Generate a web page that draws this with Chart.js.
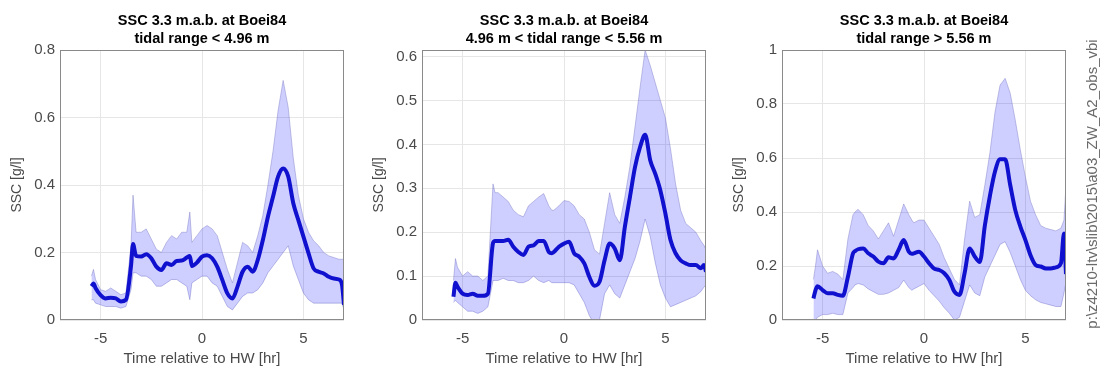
<!DOCTYPE html>
<html>
<head>
<meta charset="utf-8">
<script src="https://cdn.jsdelivr.net/npm/chart.js@4.4.1/dist/chart.umd.min.js"></script>
<style>
  html, body { margin: 0; padding: 0; background: #fff; }
  body { width: 1103px; height: 370px; position: relative; overflow: hidden; }
  .panel { position: absolute; top: 0; height: 370px; }
</style>
</head>
<body>
<div class="panel" style="left:0;width:355px"><canvas id="c1"></canvas></div>
<div class="panel" style="left:362px;width:355px"><canvas id="c2"></canvas></div>
<div class="panel" style="left:722px;width:381px"><canvas id="c3"></canvas></div>
<script>
"use strict";

// time relative to high water [hr]
const hours = [
  -5.45, -5.35, -5.25, -5, -4.75,
  -4.5, -4.25, -4, -3.75, -3.5,
  -3.4, -3.25, -3, -2.75, -2.5,
  -2.25, -2, -1.75, -1.5, -1.25,
  -1, -0.75, -0.6, -0.5, -0.25,
  0, 0.25, 0.5, 0.75, 1,
  1.25, 1.5, 1.75, 2, 2.25,
  2.5, 2.75, 3, 3.25, 3.5,
  3.75, 4, 4.25, 4.5, 4.75,
  5, 5.25, 5.5, 5.75, 6,
  6.25, 6.5, 6.75, 6.9, 7
];

// tidal range < 4.96 m
const mean1 = [
  0.100, 0.108, 0.095, 0.074, 0.064,
  0.066, 0.064, 0.055, 0.060, 0.160,
  0.225, 0.190, 0.188, 0.195, 0.183,
  0.158, 0.148, 0.168, 0.163, 0.175,
  0.176, 0.185, 0.190, 0.160, 0.170,
  0.188, 0.192, 0.183, 0.158, 0.119,
  0.079, 0.064, 0.099, 0.143, 0.158,
  0.143, 0.178, 0.237, 0.306, 0.365,
  0.425, 0.449, 0.425, 0.346, 0.296,
  0.247, 0.198, 0.153, 0.143, 0.138,
  0.128, 0.123, 0.120, 0.105, 0.045
];
const upper1 = [
  0.13, 0.15, 0.12, 0.09, 0.085,
  0.095, 0.085, 0.075, 0.08, 0.22,
  0.37, 0.26, 0.26, 0.27, 0.24,
  0.21, 0.20, 0.23, 0.25, 0.24,
  0.26, 0.26, 0.32, 0.23, 0.25,
  0.27, 0.28, 0.27, 0.25, 0.20,
  0.15, 0.11, 0.17, 0.23, 0.22,
  0.20, 0.25, 0.31, 0.40, 0.50,
  0.62, 0.71, 0.63, 0.48, 0.37,
  0.30, 0.26, 0.235, 0.22, 0.20,
  0.19, 0.185, 0.18, 0.18, 0.18
];
const lower1 = [
  0.06, 0.06, 0.05, 0.045, 0.04,
  0.04, 0.04, 0.035, 0.04, 0.09,
  0.14, 0.14, 0.13, 0.13, 0.12,
  0.10, 0.10, 0.11, 0.12, 0.12,
  0.11, 0.10, 0.06, 0.11, 0.12,
  0.13, 0.13, 0.11, 0.10, 0.07,
  0.04, 0.03, 0.05, 0.07, 0.08,
  0.08, 0.09, 0.11, 0.14, 0.16,
  0.18, 0.20, 0.22, 0.16, 0.12,
  0.08, 0.06, 0.05, 0.05, 0.05,
  0.05, 0.05, 0.05, 0.05, 0.03
];

// 4.96 m < tidal range < 5.56 m
const mean2 = [
  0.053, 0.085, 0.076, 0.060, 0.057,
  0.060, 0.055, 0.055, 0.060, 0.175,
  0.180, 0.180, 0.180, 0.183, 0.167,
  0.155, 0.148, 0.167, 0.170, 0.180,
  0.180, 0.155, 0.152, 0.155, 0.167,
  0.174, 0.178, 0.152, 0.144, 0.129,
  0.098, 0.078, 0.087, 0.136, 0.174,
  0.163, 0.136, 0.212, 0.280, 0.348,
  0.394, 0.422, 0.364, 0.333, 0.295,
  0.242, 0.182, 0.152, 0.136, 0.129,
  0.125, 0.125, 0.118, 0.125, 0.110
];
const upper2 = [
  0.09, 0.14, 0.12, 0.10, 0.11,
  0.10, 0.10, 0.09, 0.10, 0.31,
  0.29, 0.29, 0.28, 0.27, 0.25,
  0.24, 0.235, 0.26, 0.27, 0.28,
  0.288, 0.26, 0.25, 0.25, 0.26,
  0.272, 0.27, 0.26, 0.24, 0.23,
  0.20, 0.16, 0.15, 0.22, 0.29,
  0.24, 0.22, 0.28, 0.35, 0.44,
  0.53, 0.615, 0.58, 0.54, 0.50,
  0.46, 0.39, 0.31, 0.25, 0.22,
  0.21, 0.20, 0.18, 0.17, 0.16
];
const lower2 = [
  0.04, 0.045, 0.04, 0.03, 0.02,
  0.02, 0.015, 0.02, 0.03, 0.09,
  0.09, 0.09, 0.095, 0.09, 0.09,
  0.085, 0.085, 0.09, 0.10, 0.09,
  0.085, 0.09, 0.085, 0.085, 0.085,
  0.085, 0.085, 0.08, 0.06, 0.04,
  0.01, -0.01, 0.0, 0.06, 0.08,
  0.06, 0.05, 0.08, 0.11, 0.14,
  0.18, 0.23, 0.19, 0.13, 0.08,
  0.05, 0.03, 0.035, 0.04, 0.045,
  0.05, 0.055, 0.065, 0.075, 0.08
];

// tidal range > 5.56 m
const mean3 = [
  0.080, 0.110, 0.125, 0.111, 0.099,
  0.099, 0.093, 0.090, 0.160, 0.247,
  0.255, 0.262, 0.265, 0.247, 0.235,
  0.216, 0.210, 0.232, 0.228, 0.260,
  0.296, 0.253, 0.245, 0.247, 0.253,
  0.235, 0.210, 0.190, 0.185, 0.173,
  0.148, 0.105, 0.093, 0.173, 0.265,
  0.235, 0.215, 0.350, 0.460, 0.550,
  0.595, 0.595, 0.500, 0.407, 0.346,
  0.296, 0.240, 0.204, 0.198, 0.191,
  0.191, 0.195, 0.210, 0.320, 0.170
];
const upper3 = [
  0.15, 0.20, 0.26, 0.20, 0.173,
  0.18, 0.17, 0.15, 0.30, 0.39,
  0.40, 0.41, 0.39, 0.35, 0.33,
  0.30, 0.33, 0.36, 0.31, 0.37,
  0.43, 0.39, 0.37, 0.36, 0.37,
  0.37, 0.34, 0.31, 0.28, 0.23,
  0.19, 0.15, 0.13, 0.30, 0.44,
  0.38, 0.39, 0.50, 0.62, 0.77,
  0.87, 0.895, 0.84, 0.74, 0.63,
  0.53, 0.44, 0.39, 0.35, 0.34,
  0.335, 0.33, 0.34, 0.37, 0.50
];
const lower3 = [
  0.0, 0.0, 0.01, 0.02, 0.02,
  0.025, 0.02, 0.02, 0.10, 0.12,
  0.13, 0.135, 0.13, 0.115, 0.105,
  0.095, 0.095, 0.10, 0.11, 0.12,
  0.148, 0.12, 0.11, 0.115, 0.125,
  0.135, 0.11, 0.09, 0.07, 0.045,
  0.025, 0.0, 0.01, 0.07, 0.13,
  0.10, 0.09, 0.16, 0.20, 0.24,
  0.28, 0.29, 0.25, 0.20, 0.15,
  0.11, 0.09, 0.075, 0.065, 0.06,
  0.055, 0.05, 0.05, 0.10, 0.14
];

const titleTop = "SSC 3.3 m.a.b. at Boei84";
const subtitles = [
  "tidal range < 4.96 m",
  "4.96 m < tidal range < 5.56 m",
  "tidal range > 5.56 m"
];
const xTicks = [-5, 0, 5];
const yTicks1 = [0, 0.2, 0.4, 0.6, 0.8];
const yTicks2 = [0, 0.1, 0.2, 0.3, 0.4, 0.5, 0.6];
const yTicks3 = [0, 0.2, 0.4, 0.6, 0.8, 1];
const yMax = [0.8, 0.615, 1];
const filePath = "p:\\z4210-ltv\\slib\\2015\\a03_ZW_A2_obs_vbi";

const FONT = "'Liberation Sans', Arial, Helvetica, sans-serif";
const pairs = (ys) => hours.map((h, i) => ({ x: h, y: ys[i] }));

// box around the axes, two-line title, optional file path on the right
const panelDecor = {
  id: "panelDecor",
  afterDatasetsDraw(chart) {
    const { ctx, chartArea: a } = chart;
    ctx.save();
    ctx.strokeStyle = "#8a8a8a";
    ctx.lineWidth = 1;
    ctx.strokeRect(a.left + 0.5, a.top + 0.5, a.right - a.left - 1, a.bottom - a.top - 1);
    ctx.restore();
  },
  afterDraw(chart, args, opts) {
    const { ctx, chartArea: a } = chart;
    const cx = (a.left + a.right) / 2;
    ctx.save();
    ctx.fillStyle = "#000";
    ctx.textAlign = "center";
    ctx.textBaseline = "middle";
    ctx.font = "bold 14.5px " + FONT;
    ctx.fillText(titleTop, cx, 21);
    ctx.fillText(opts.sub, cx, 39);
    if (opts.path) {
      ctx.translate(a.right + 27, 184);
      ctx.rotate(-Math.PI / 2);
      ctx.font = "15px " + FONT;
      ctx.fillStyle = "#6a6a6a";
      ctx.fillText(filePath, 0, 0);
    }
    ctx.restore();
  }
};

function makePanel(id, mean, upper, lower, yTicks, max, sub, path) {
  const ctx = document.getElementById(id).getContext("2d");
  return new Chart(ctx, {
    type: "line",
    data: {
      datasets: [
        {
          data: pairs(mean),
          borderColor: "#1010cf",
          borderWidth: 4,
          pointRadius: 0,
          cubicInterpolationMode: "monotone",
          fill: false
        },
        {
          data: pairs(upper),
          borderColor: "rgba(110, 110, 190, 0.4)",
          borderWidth: 1,
          pointRadius: 0,
          backgroundColor: "rgba(0, 0, 255, 0.19)",
          fill: "+1"
        },
        {
          data: pairs(lower),
          borderColor: "rgba(110, 110, 190, 0.4)",
          borderWidth: 1,
          pointRadius: 0,
          fill: false
        }
      ]
    },
    options: {
      responsive: true,
      maintainAspectRatio: false,
      animation: false,
      layout: { padding: { top: 50, right: id === "c3" ? 37 : 11, left: 0, bottom: 0 } },
      plugins: {
        legend: { display: false },
        tooltip: { enabled: false },
        panelDecor: { sub: sub, path: path }
      },
      scales: {
        x: {
          type: "linear",
          min: -7,
          max: 7,
          afterBuildTicks: (s) => { s.ticks = xTicks.map((v) => ({ value: v })); },
          afterFit: (s) => { s.height = 50; },
          grid: { color: "#e6e6e6", drawTicks: false },
          border: { display: false },
          ticks: { color: "#4a4a4a", padding: 10, font: { family: FONT, size: 15 } },
          title: {
            display: true,
            text: "Time relative to HW [hr]",
            color: "#4a4a4a",
            padding: { top: 0, bottom: 2 },
            font: { family: FONT, size: 15 }
          }
        },
        y: {
          min: 0,
          max: max,
          afterBuildTicks: (s) => { s.ticks = yTicks.map((v) => ({ value: v })); },
          afterFit: (s) => { s.width = 60; },
          grid: { color: "#e6e6e6", drawTicks: false },
          border: { display: false },
          ticks: {
            color: "#4a4a4a",
            padding: 5,
            font: { family: FONT, size: 15 },
            callback: (v) => String(Math.round(v * 10) / 10)
          },
          title: {
            display: true,
            text: "SSC [g/l]",
            color: "#4a4a4a",
            padding: { top: 9, bottom: 0 },
            font: { family: FONT, size: 14 }
          }
        }
      }
    },
    plugins: [panelDecor]
  });
}

document.addEventListener("DOMContentLoaded", function () {
  makePanel("c1", mean1, upper1, lower1, yTicks1, yMax[0], subtitles[0], false);
  makePanel("c2", mean2, upper2, lower2, yTicks2, yMax[1], subtitles[1], false);
  makePanel("c3", mean3, upper3, lower3, yTicks3, yMax[2], subtitles[2], true);
});
</script>
</body>
</html>
